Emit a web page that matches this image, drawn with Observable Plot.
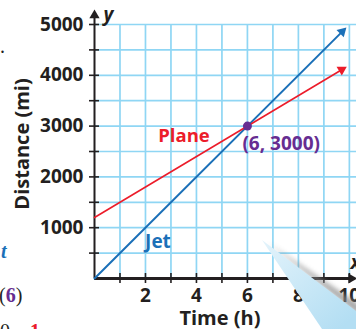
<!DOCTYPE html>
<html>
<head>
<meta charset="utf-8">
<script src="https://cdn.jsdelivr.net/npm/d3@7"></script>
<script src="https://cdn.jsdelivr.net/npm/@observablehq/plot@0.6"></script>
<style>
  html, body { margin: 0; padding: 0; background: #fff; overflow: hidden; }
  #wrap { position: relative; width: 356px; height: 329px; overflow: hidden; }
  #wrap svg text { font-weight: 700; }
  .frag { position: absolute; font-family: "Liberation Serif", "DejaVu Serif", serif; font-size: 20px; color: #231f20; white-space: nowrap; line-height: 1; }
  #pointer { position: absolute; left: 0; top: 0; pointer-events: none; }
</style>
</head>
<body>
<div id="wrap"></div>
<script>
// Travel times (h) and distances (mi) for the two aircraft
const jetTimes = [0, 9.72];
const jetDistances = [0, 4860];
const planeTimes = [0, 9.7];
const planeDistances = [1200, 4110];

// Where the two lines meet
const meetTime = 6;
const meetDistance = 3000;

// Tick labels
const xTickLabels = [2, 4, 6, 8, 10];
const yTickLabels = [1000, 2000, 3000, 4000, 5000];
const xGridLines = d3.range(1, 11);
const yGridLines = d3.range(500, 5001, 500);

const ink = "#231f20";
const gridBlue = "#8fd6f4";
const jetBlue = "#1b70b8";
const planeRed = "#ec1c2a";
const purple = "#662d91";

const width = 356, height = 329;
const marginLeft = 94, marginRight = 0, marginTop = 24, marginBottom = 51;
const xDomain = [0, 10.28], yDomain = [0, 5000];

// pixels per data unit, used to orient the arrowheads along each line
const kx = (width - marginLeft - marginRight) / (xDomain[1] - xDomain[0]);
const ky = (height - marginTop - marginBottom) / (yDomain[1] - yDomain[0]);
const headRotate = (ts, ds) => {
  const n = ts.length - 1;
  const a = Math.atan2((ds[n] - ds[n - 1]) * ky, (ts[n] - ts[n - 1]) * kx) * 180 / Math.PI;
  return 90 - a;
};

const jet = jetTimes.map((t, i) => ({time: t, distance: jetDistances[i]}));
const plane = planeTimes.map((t, i) => ({time: t, distance: planeDistances[i]}));
const last = a => [a[a.length - 1]];

const chart = Plot.plot({
  width, height, marginLeft, marginRight, marginTop, marginBottom,
  style: {fontFamily: "'Open Sans', sans-serif", fontSize: "19px", color: ink, background: "transparent", overflow: "visible"},
  x: {domain: xDomain},
  y: {domain: yDomain},
  marks: [
    // grid
    Plot.gridX(xGridLines, {stroke: gridBlue, strokeOpacity: 1, strokeWidth: 1.7}),
    Plot.gridY(yGridLines, {stroke: gridBlue, strokeOpacity: 1, strokeWidth: 1.7}),

    // axis lines with arrowheads
    Plot.ruleY([0], {x1: 0, x2: 10.05, stroke: ink, strokeWidth: 2.8}),
    Plot.ruleX([0], {y1: 0, y2: 5150, stroke: ink, strokeWidth: 2}),
    Plot.dot([{x: 10.08, y: 0}], {x: "x", y: "y", symbol: "triangle", r: 3.8, fill: ink, rotate: 90}),
    Plot.dot([{x: 0, y: 5180}], {x: "x", y: "y", symbol: "triangle", r: 3.8, fill: ink, rotate: 0}),

    // crossing tick marks
    Plot.axisX(xGridLines, {tickSize: 10, dy: -5, tickFormat: () => "", stroke: ink, strokeWidth: 1.6, label: null}),
    Plot.axisY(yGridLines, {tickSize: 10, dx: 5, tickFormat: () => "", stroke: ink, strokeWidth: 1.6, label: null}),

    // tick labels
    Plot.axisX(xTickLabels, {tickSize: 0, tickPadding: 10, tickFormat: d => String(d), fill: ink, fontSize: 19, label: null}),
    Plot.axisY(yTickLabels, {tickSize: 0, tickPadding: 11, tickFormat: d => String(d), fill: ink, fontSize: 19, label: null}),

    // axis titles
    Plot.text(["Distance (mi)"], {x: () => -2.84, y: () => 2648, rotate: -90, lineAnchor: "middle", fill: ink, fontSize: 20, fontWeight: "bold"}),
    Plot.text(["Time (h)"], {x: () => 4.92, y: () => 0, lineAnchor: "top", dy: 32, fill: ink, fontSize: 20, fontWeight: "bold"}),
    Plot.text(["y"], {frameAnchor: "top-left", textAnchor: "start", lineAnchor: "middle", dx: 9, dy: -10, fill: ink, fontSize: 19, fontStyle: "italic", fontWeight: "bold"}),
    Plot.text(["x"], {frameAnchor: "bottom-right", textAnchor: "start", lineAnchor: "middle", dx: -6, dy: -16, fill: ink, fontSize: 19, fontStyle: "italic", fontWeight: "bold"}),

    // the two travel lines
    Plot.line(jet, {x: "time", y: "distance", stroke: jetBlue, strokeWidth: 2}),
    Plot.dot(last(jet), {x: "time", y: "distance", symbol: "triangle", r: 3.8, fill: jetBlue, rotate: headRotate(jetTimes, jetDistances)}),
    Plot.line(plane, {x: "time", y: "distance", stroke: planeRed, strokeWidth: 1.6}),
    Plot.dot(last(plane), {x: "time", y: "distance", symbol: "triangle", r: 3.8, fill: planeRed, rotate: headRotate(planeTimes, planeDistances)}),

    // line labels
    Plot.text(["Plane"], {x: () => 3.51, y: () => 2795, fill: planeRed, fontSize: 18.5, fontWeight: "bold"}),
    Plot.text(["Jet"], {x: () => 2.49, y: () => 728, fill: jetBlue, fontSize: 19, fontWeight: "bold"}),

    // intersection point
    Plot.dot([{time: meetTime, distance: meetDistance}], {x: "time", y: "distance", r: 4.5, fill: purple}),
    Plot.text([{time: meetTime, distance: meetDistance}], {
      x: "time", y: "distance", text: d => `(${d.time}, ${d.distance})`,
      textAnchor: "start", dx: -5, dy: 18, fill: purple, fontSize: 19, fontWeight: "bold"
    })
  ]
});

const wrap = document.getElementById("wrap");
wrap.appendChild(chart);

// neighbouring page text clipped at the left edge
const frags = [
  {html: ".", left: 0, top: 36},
  {html: '<i style="color:#1b70b8;font-weight:700">t</i>', left: 1, top: 241},
  {html: '(<b style="color:#662d91">6</b>)', left: -1, top: 285},
  {html: '0 &nbsp;&nbsp;&nbsp;<b style="color:#ec1c2a">1</b>', left: 0, top: 321}
];
for (const f of frags) {
  const s = document.createElement("div");
  s.className = "frag";
  s.style.left = f.left + "px";
  s.style.top = f.top + "px";
  s.innerHTML = f.html;
  wrap.appendChild(s);
}

// callout pointer overlapping the lower right corner
wrap.insertAdjacentHTML("beforeend", `
<svg id="pointer" width="356" height="329">
  <defs>
    <filter id="soft" x="-20%" y="-20%" width="140%" height="140%"><feGaussianBlur stdDeviation="2.5"/></filter>
    <linearGradient id="wedge" x1="262" y1="240" x2="340" y2="329" gradientUnits="userSpaceOnUse">
      <stop offset="0" stop-color="#e3f3fb"/>
      <stop offset="1" stop-color="#b3def3"/>
    </linearGradient>
  </defs>
  <polygon points="268,243 360,305 360,316" fill="#8a8a8a" opacity="0.75" filter="url(#soft)"/>
  <polygon points="262,240 356,311 356,329 322,329" fill="url(#wedge)"/>
</svg>`);
</script>
</body>
</html>
